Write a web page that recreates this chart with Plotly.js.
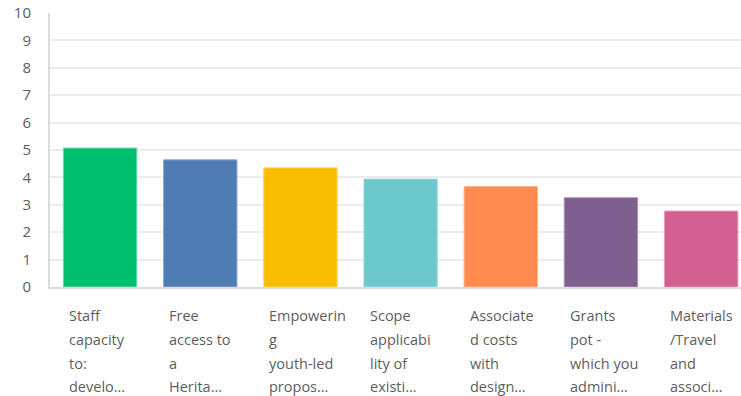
<!DOCTYPE html>
<html>
<head>
<meta charset="utf-8">
<script src="https://cdn.plot.ly/plotly-3.0.1.min.js"></script>
<style>html,body{margin:0;padding:0;background:#fff;}</style>
</head>
<body>
<div id="chart" style="width:741px;height:396px;"></div>
<script>
const categories = [
  "Staff capacity to: develo…",
  "Free access to a Herita…",
  "Empowering youth-led propos…",
  "Scope applicability of existi…",
  "Associated costs with design…",
  "Grants pot - which you admini…",
  "Materials/Travel and associ…"
];
const labelLines = [
  ["Staff", "capacity", "to:", "develo…"],
  ["Free", "access to", "a", "Herita…"],
  ["Empowerin", "g", "youth-led", "propos…"],
  ["Scope", "applicabi", "lity of", "existi…"],
  ["Associate", "d costs", "with", "design…"],
  ["Grants", "pot -", "which you", "admini…"],
  ["Materials", "/Travel", "and", "associ…"]
];
const values = [5.07, 4.64, 4.35, 3.94, 3.67, 3.26, 2.77];
const colors = ["#00bf6f", "#507cb6", "#f9be00", "#6bc8cd", "#ff8b4f", "#7f5f90", "#d25f90"];
const lineColors = ["#6fdcae", "#8fa9d0", "#fbd76a", "#a6dde0", "#ffb690", "#ab97b6", "#e499b8"];
const yTicks = [0,1,2,3,4,5,6,7,8,9,10];

const xIdx = categories.map((c, i) => i);

const trace = {
  type: "bar",
  x: xIdx,
  y: values,
  hovertext: categories,
  hoverinfo: "text+y",
  textposition: "none",
  marker: { color: colors, line: { color: lineColors, width: 1 } },
  width: 0.733
};

const lineShift = [-28.5, -52.5, -76, -99.5];
const annotations = [];
labelLines.forEach((lines, i) => {
  lines.forEach((t, k) => {
    annotations.push({
      x: i, xref: "x", xanchor: "left", xshift: -33,
      y: 0, yref: "paper", yanchor: "middle", yshift: lineShift[k],
      text: t, showarrow: false, align: "left",
      font: { family: "Open Sans, sans-serif", size: 14.5, color: "#5e5e5e" }
    });
  });
});

const layout = {
  width: 741, height: 396,
  margin: { l: 50, r: 0, t: 13, b: 109 },
  paper_bgcolor: "#ffffff", plot_bgcolor: "#ffffff",
  showlegend: false,
  xaxis: {
    range: [-0.5, 6.398],
    showticklabels: false, ticks: "",
    showgrid: false, zeroline: false,
    showline: true, linecolor: "#dcdcdc", linewidth: 2,
    fixedrange: true
  },
  yaxis: {
    range: [0, 10],
    tickvals: yTicks, ticktext: yTicks.map(String),
    showgrid: true, gridcolor: "#ececec", gridwidth: 2,
    zeroline: false,
    showline: true, linecolor: "#dcdcdc", linewidth: 2,
    ticks: "", ticklabelstandoff: 14,
    tickfont: { family: "Open Sans, sans-serif", size: 15, color: "#5e5e5e" },
    fixedrange: true
  },
  annotations: annotations
};

Plotly.newPlot("chart", [trace], layout, { displayModeBar: false, staticPlot: true });
</script>
</body>
</html>
